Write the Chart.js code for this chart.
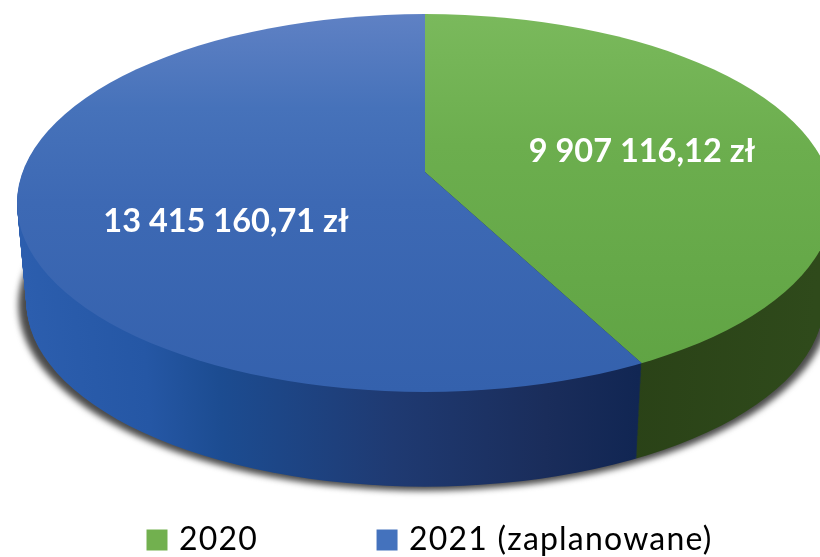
<!DOCTYPE html>
<html lang="pl">
<head>
    <meta charset="UTF-8">
    <title>Wykres 3D</title>
    <style>
        body { margin: 0; background: #fff; }
        canvas { display: block; }
    </style>
    <script src="https://cdn.jsdelivr.net/npm/chart.js"></script>
</head>
<body>
    <canvas id="pie" width="820" height="557"></canvas>
    <script>
        const categories = ['2020', '2021 (zaplanowane)'];
        const values = [9907116.12, 13415160.71];
        const legendColors = ['#72b04f', '#4472bd'];

        // the "3D" look: wedge apex, rim ellipse and how deep the side wall goes
        const apex = { x: 425, y: 172 };
        const rim = { x: 425, y: 203, rx: 408, ry: 189 };
        const squash = 0.451;
        const depth = 99;
        const shrink = 0.023;

        function formatZl(v) {
            const [whole, dec] = v.toFixed(2).split('.');
            return whole.replace(/\B(?=(\d{3})+$)/g, ' ') + ',' + dec + ' zł';
        }

        function gradient(ctx, x0, y0, x1, y1, stops) {
            const g = ctx.createLinearGradient(x0, y0, x1, y1);
            stops.forEach(s => g.addColorStop(s[0], s[1]));
            return g;
        }

        // gradients live in the chart's own space, before the squash is applied
        function topFill(c) {
            const area = c.chart.chartArea;
            if (!area) return legendColors[c.dataIndex];
            const cy = (area.top + area.bottom) / 2;
            const y0 = cy - (apex.y - 14) / squash, y1 = cy + (392 - apex.y) / squash;
            const stops = c.dataIndex === 0
                ? [[0, '#7ab95c'], [0.35, '#6cae4e'], [1, '#5fa343']]
                : [[0, '#5f81c4'], [0.25, '#4672ba'], [0.5, '#3d69b4'], [1, '#3461ad']];
            return gradient(c.chart.ctx, 0, y0, 0, y1, stops);
        }

        function sideFill(ctx, arc, i) {
            if (i === 0) {
                return gradient(ctx, arc.x - apex.x + 630, 0, arc.x - apex.x + 820, 0,
                    [[0, '#2a4217'], [1, '#2f4a1b']]);
            }
            const x0 = arc.x - apex.x;
            return gradient(ctx, x0 + 20, 0, x0 + 640, 0, [
                [0, '#2c5eae'], [0.2, '#2557a5'], [0.32, '#1c4c91'],
                [0.6, '#1f3a72'], [0.85, '#1a2d5b'], [1, '#112653']
            ]);
        }

        function placeFace(ctx, arc, dy, k) {
            // clip to the rim, then map the library's circle onto the squashed disc
            ctx.translate(rim.x, rim.y + dy);
            ctx.scale(k, k);
            ctx.beginPath();
            ctx.ellipse(0, 0, rim.rx, rim.ry, 0, 0, Math.PI * 2);
            ctx.clip();
            ctx.translate(apex.x - rim.x, apex.y - rim.y);
            ctx.scale(1, squash);
            ctx.translate(-arc.x, -arc.y);
        }

        const pie3d = {
            id: 'pie3d',
            afterLayout(chart) {
                // legend padding doubles as the gap between items, so move the box afterwards
                const legend = chart.legend;
                const pad = legend.options.labels.padding;
                legend.top = 524 - pad;
                legend.bottom = legend.top + legend.height;
                legend.left = 151 - pad;
                legend.right = 2000;
            },
            beforeDraw(chart) {
                // the legend is drawn right after this hook; its letters run a bit wide
                chart.ctx.letterSpacing = '1.2px';
            },
            beforeDatasetsDraw(chart) {
                const ctx = chart.ctx;
                ctx.letterSpacing = '0px';
                const arcs = chart.getDatasetMeta(0).data;
                const arc0 = arcs[0];

                // soft shadow under the wall
                ctx.save();
                ctx.filter = 'blur(3px)';
                ctx.fillStyle = '#4a4a4a';
                ctx.beginPath();
                ctx.ellipse(rim.x - 1, rim.y + depth + 3, rim.rx * (1 - shrink) + 7, rim.ry * (1 - shrink) + 1, 0, 0, Math.PI * 2);
                ctx.fill();
                ctx.restore();

                // side wall: stack the slices from the bottom up
                const styles = arcs.map((a, i) => sideFill(ctx, a, i));
                for (let dy = depth; dy > 0; dy--) {
                    const k = 1 - shrink * dy / depth;
                    arcs.forEach((a, i) => {
                        const keep = a.options;
                        a.options = Object.assign({}, keep, { backgroundColor: styles[i] });
                        ctx.save();
                        placeFace(ctx, arc0, dy, k);
                        a.draw(ctx);
                        ctx.restore();
                        a.options = keep;
                    });
                }

                ctx.save();
                placeFace(ctx, arc0, 0, 1);
            },
            afterDatasetsDraw(chart) {
                const ctx = chart.ctx;
                ctx.restore();

                // value labels
                const spots = [[642, 152], [226, 222]];
                ctx.save();
                ctx.font = 'bold 32.5px Lato, sans-serif';
                ctx.fillStyle = '#fff';
                ctx.textAlign = 'center';
                ctx.textBaseline = 'middle';
                values.forEach((v, i) => ctx.fillText(formatZl(v), spots[i][0], spots[i][1]));
                ctx.restore();
            }
        };

        new Chart(document.getElementById('pie'), {
            type: 'pie',
            data: {
                labels: categories,
                datasets: [{
                    data: values,
                    backgroundColor: topFill,
                    borderWidth: 0
                }]
            },
            plugins: [pie3d],
            options: {
                responsive: false,
                animation: false,
                radius: 520,
                plugins: {
                    tooltip: { enabled: false },
                    legend: {
                        position: 'bottom',
                        align: 'start',
                        labels: {
                            usePointStyle: true,
                            boxWidth: 12,
                            boxHeight: 21,
                            padding: 123,
                            color: '#26396b',
                            font: { family: 'Lato, sans-serif', size: 32 },
                            generateLabels: () => categories.map((text, i) => ({
                                text,
                                fillStyle: legendColors[i],
                                strokeStyle: legendColors[i],
                                pointStyle: 'rect',
                                lineWidth: 0,
                                index: i
                            }))
                        }
                    }
                }
            }
        });
    </script>
</body>
</html>
